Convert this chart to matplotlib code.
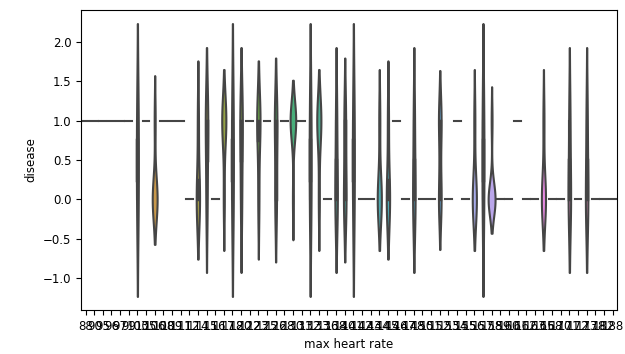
import numpy as np
import pandas as pd
import matplotlib
matplotlib.use("Agg")
import matplotlib.pyplot as plt
import seaborn as sns

# category values on the x axis
max_hr = [88, 90, 95, 96, 97, 99, 103, 105, 106, 108, 109, 111, 112, 114, 115,
          116, 117, 118, 120, 122, 123, 125, 126, 128, 130, 131, 132, 133, 136,
          138, 140, 141, 142, 143, 144, 145, 146, 147, 148, 150, 151, 152, 153,
          154, 155, 156, 157, 158, 159, 160, 161, 162, 163, 165, 168, 170, 171,
          172, 173, 178, 182, 188]
# how many rows with disease == 0 / disease == 1 in each category
n_healthy = [0, 0, 0, 0, 0, 0, 1, 0, 5, 0, 0, 0, 1, 3, 1, 1, 1, 1,
             1, 0, 1, 0, 2, 0, 1, 0, 1, 1, 1, 2, 3, 1, 1, 1, 4, 3,
             0, 1, 2, 1, 1, 6, 1, 0, 1, 4, 1, 8, 1, 1, 0, 1, 1, 4,
             1, 1, 2, 1, 2, 1, 1, 1]
n_sick = [1, 1, 1, 1, 1, 1, 1, 1, 1, 1, 1, 1, 0, 1, 2, 0, 4, 1,
          2, 1, 3, 1, 3, 1, 6, 1, 1, 4, 0, 1, 2, 1, 0, 0, 1, 1,
          1, 0, 1, 0, 0, 6, 0, 1, 0, 1, 1, 1, 0, 0, 1, 0, 0, 1,
          0, 0, 1, 0, 1, 0, 0, 0]

rows = []
for hr, a, b in zip(max_hr, n_healthy, n_sick):
    rows += [(str(hr), 0)] * a + [(str(hr), 1)] * b
df = pd.DataFrame(rows, columns=["max heart rate", "disease"])

plt.rcParams['font.size'] = 8.5
fig, ax = plt.subplots(figsize=(6.25, 3.54), dpi=100)
fig.subplots_adjust(left=0.13, right=0.987, bottom=0.124, top=0.972)

pal = sns.husl_palette(len(max_hr), l=.7)
sns.violinplot(data=df, x="max heart rate", y="disease", hue="max heart rate",
               palette=pal, legend=False, cut=2, inner="box",
               density_norm="area", common_norm=True, linewidth=1.5,
               inner_kws=dict(box_width=2.5, whis_width=1.5, marker=""),
               ax=ax)

fig.savefig("out.png", dpi=100)
